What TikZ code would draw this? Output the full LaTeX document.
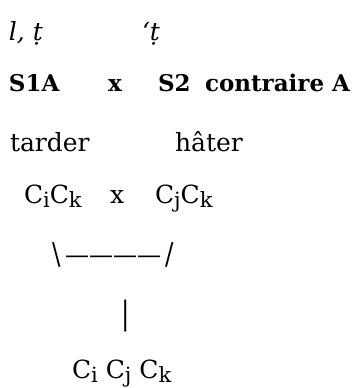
\documentclass[tikz,border=0pt]{standalone}
\usepackage{fontspec}
\setmainfont{DejaVu Serif}
\begin{document}
\begin{tikzpicture}[x=1pt,y=-1pt,
  txt/.style={anchor=base west,inner sep=0pt,outer sep=0pt,font=\fontsize{25}{30}\selectfont},
  bld/.style={txt,font=\fontsize{23}{28}\selectfont\bfseries},
  itl/.style={txt,font=\fontsize{25}{30}\selectfont\itshape}]
\useasboundingbox (0,0) rectangle (353,388);
\newcommand{\sbx}[1]{\raisebox{-4pt}{\fontsize{21}{24}\selectfont #1}}
\newcommand{\tallg}[2]{\scalebox{1}[#1]{#2}}
\node[itl] (l1a) at (9,40) {l, ṭ};
\node[itl] (l1b) at (142,40) {‘ṭ};
\node[bld] (l2a) at (9,91) {S1A};
\node[bld] (l2b) at (108,91) {x};
\node[bld] (l2c) at (158,91) {S2};
\node[bld] (l2d) at (205,91) {contraire A};
\node[txt] (l3a) at (10,151) {tarder};
\node[txt] (l3b) at (175,151) {hâter};
\node[txt] (l4a) at (24,203) {C\sbx{i}C\sbx{k}};
\node[txt] (l4b) at (110,203) {x};
\node[txt] (l4c) at (155,203) {C\sbx{j}C\sbx{k}};
\node[txt] (l5a) at (52,264) {\tallg{1.2}{\textbackslash}};
\node[txt] (l5b) at (65,263) {\scalebox{0.96}[1]{————}};
\node[txt] (l5c) at (165,264) {\tallg{1.2}{/}};
\node[txt] (l6) at (121,324) {\tallg{1.28}{|}};
\node[txt] (l7) at (72,378) {C\sbx{i} C\sbx{j} C\sbx{k}};
\end{tikzpicture}
\end{document}
